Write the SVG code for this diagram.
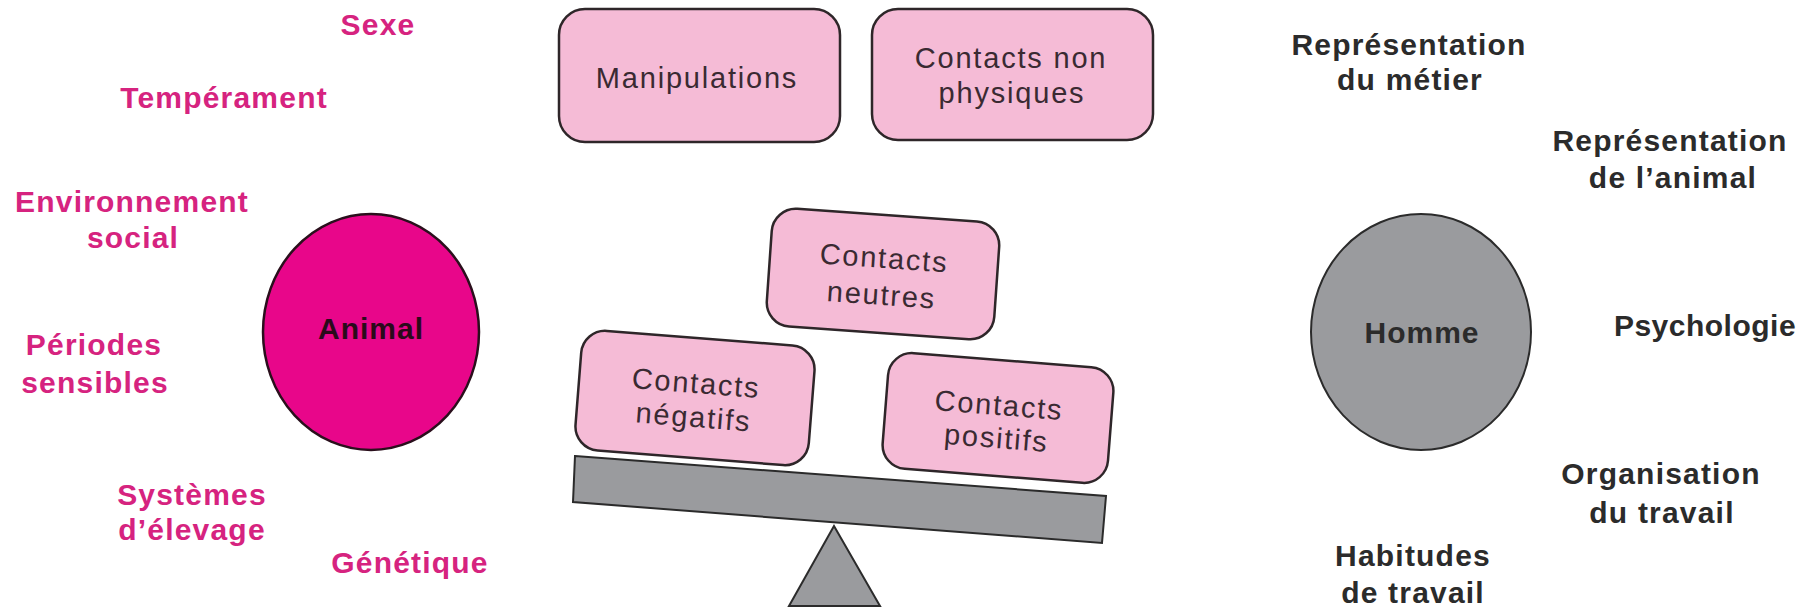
<svg xmlns="http://www.w3.org/2000/svg" width="1804" height="609" viewBox="0 0 1804 609">
<style>
.lbl{font-family:"Liberation Sans",Arial,sans-serif;font-weight:bold;font-size:30px;letter-spacing:1.2px;text-anchor:middle}
.pk{fill:#d6237f}
.gr{fill:#2b2b2b}
.box{fill:#f5bbd6;stroke:#2e2629;stroke-width:2.5}
.bt{font-family:"Liberation Sans",Arial,sans-serif;font-size:29px;letter-spacing:1.8px;fill:#3a2a32;text-anchor:middle}
.ct{font-family:"Liberation Sans",Arial,sans-serif;font-weight:bold;font-size:30px;letter-spacing:1px;text-anchor:middle}
.scale{fill:#9a9b9e;stroke:#2b2b2b;stroke-width:2}
</style>
<rect width="1804" height="609" fill="#ffffff"/>

<g id="animal-factors">
<text class="lbl pk" x="378" y="35">Sexe</text>
<text class="lbl pk" x="224" y="108">Tempérament</text>
<text class="lbl pk" x="132" y="212">Environnement</text>
<text class="lbl pk" x="133" y="248">social</text>
<text class="lbl pk" x="94" y="355">Périodes</text>
<text class="lbl pk" x="95" y="393">sensibles</text>
<text class="lbl pk" x="192" y="505">Systèmes</text>
<text class="lbl pk" x="192" y="540">d’élevage</text>
<text class="lbl pk" x="410" y="573">Génétique</text>
</g>

<g id="animal">
<ellipse cx="371" cy="332" rx="108" ry="118" fill="#e8068a" stroke="#2a0f1c" stroke-width="2.5"/>
<text class="ct" x="371" y="339" fill="#2a0a1a">Animal</text>
</g>

<g id="manipulations">
<rect class="box" x="559" y="9" width="281" height="133" rx="26"/>
<text class="bt" x="697" y="88">Manipulations</text>
</g>

<g id="contacts-non-physiques">
<rect class="box" x="872" y="9" width="281" height="131" rx="26"/>
<text class="bt" x="1011" y="68">Contacts non</text>
<text class="bt" x="1012" y="103">physiques</text>
</g>

<g id="balance">
<polygon class="scale" points="575,456 1106,496 1102,543 573,502"/>
<polygon class="scale" points="834,526 789,606 880,606"/>
</g>

<g id="contacts-neutres" transform="translate(883,274) rotate(4)">
<rect class="box" x="-114" y="-59" width="228" height="118" rx="24"/>
<text class="bt" x="0" y="-6">Contacts</text>
<text class="bt" x="0" y="31">neutres</text>
</g>

<g id="contacts-negatifs" transform="translate(695,398) rotate(4.5)">
<rect class="box" x="-117" y="-60" width="234" height="120" rx="24"/>
<text class="bt" x="0" y="-5">Contacts</text>
<text class="bt" x="0" y="29">négatifs</text>
</g>

<g id="contacts-positifs" transform="translate(998,418) rotate(4.5)">
<rect class="box" x="-113" y="-58" width="226" height="116" rx="24"/>
<text class="bt" x="0" y="-3">Contacts</text>
<text class="bt" x="0" y="30">positifs</text>
</g>

<g id="homme">
<ellipse cx="1421" cy="332" rx="110" ry="118" fill="#9a9b9e" stroke="#2b2b2b" stroke-width="2"/>
<text class="ct" x="1422" y="343" fill="#2b2b2b">Homme</text>
</g>

<g id="human-factors">
<text class="lbl gr" x="1409" y="55">Représentation</text>
<text class="lbl gr" x="1410" y="90">du métier</text>
<text class="lbl gr" x="1670" y="151">Représentation</text>
<text class="lbl gr" x="1673" y="188">de l’animal</text>
<text class="lbl gr" x="1705" y="336" style="letter-spacing:0.5px">Psychologie</text>
<text class="lbl gr" x="1661" y="484">Organisation</text>
<text class="lbl gr" x="1662" y="523">du travail</text>
<text class="lbl gr" x="1413" y="566">Habitudes</text>
<text class="lbl gr" x="1413" y="603">de travail</text>
</g>

<g id="connectors"/>
</svg>
